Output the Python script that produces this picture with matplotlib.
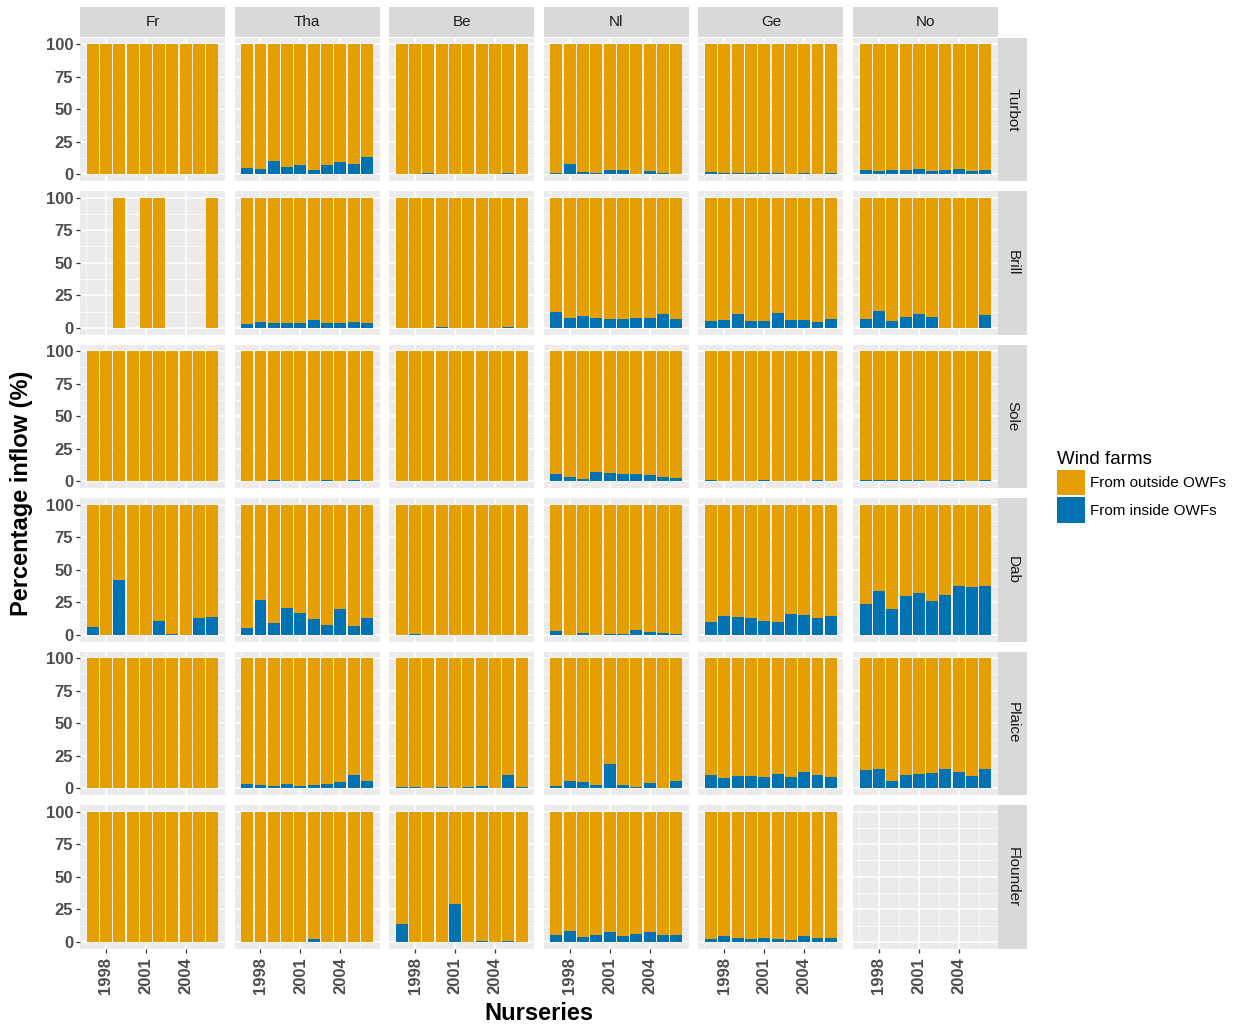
import numpy as np
import matplotlib
matplotlib.use("Agg")
import matplotlib.pyplot as plt
from matplotlib.patches import Patch

plt.rcParams['font.family'] = ['Liberation Sans', 'DejaVu Sans']

nurseries = ["Fr", "Tha", "Be", "Nl", "Ge", "No"]
species = ["Turbot", "Brill", "Sole", "Dab", "Plaice", "Flounder"]
years = list(range(1997, 2007))
year_ticks = [1998, 2001, 2004]
legend_labels = ["From outside OWFs", "From inside OWFs"]

# % inflow from inside OWFs, one row per nursery (Fr, Tha, Be, Nl, Ge, No); None = no data
N = None
inside_turbot = [
    [0, 0, 0.5, 0.5, 0, 0, 0.5, 0.5, 0.5, 0.5],
    [5, 4, 10, 6, 7, 3.5, 7, 9.5, 8, 13.5],
    [0, 0, 1, 0.3, 0, 0, 0, 0, 0.8, 0],
    [0.8, 7.7, 1.8, 1.5, 3.6, 3.3, 0, 3, 0.8, 0.3],
    [1.8, 0.8, 1, 0.8, 1.5, 1.5, 0.5, 0.8, 0.5, 1.3],
    [3.6, 2.8, 3.3, 3.3, 4.3, 2.8, 3.8, 4.3, 3, 3.8],
]
inside_brill = [
    [N, N, 0, N, 0, 0, N, N, N, 0],
    [3.3, 4.8, 3.8, 3.8, 3.6, 5.9, 4, 3.6, 4.6, 4],
    [0, 0, 0, 0.5, 0, 0, 0, 0, 0.5, 0],
    [12.2, 7.9, 9.2, 7.4, 6.9, 6.6, 7.4, 7.9, 10.7, 7.1],
    [5.1, 5.9, 11, 5.6, 5.6, 11.7, 6.4, 5.9, 4.8, 6.6],
    [6.9, 12.8, 5.1, 8.7, 11, 8.7, 0, 0, 0, 10.2],
]
inside_sole = [
    [0, 0, 0, 0, 0, 0, 0, 0, 0, 0],
    [0.5, 0.5, 1, 0.3, 0.5, 0.5, 1, 0.3, 1, 0.5],
    [0, 0, 0, 0, 0, 0, 0, 0, 0, 0],
    [5.9, 3.3, 1.8, 7.2, 6.6, 5.6, 5.9, 4.6, 3.8, 2.8],
    [0.8, 0.3, 0.5, 0.2, 0.8, 0.3, 0.3, 0.5, 0.8, 0.5],
    [1.5, 1, 1, 0.8, 1.3, 0.3, 0.8, 1, 0.5, 1],
]
inside_dab = [
    [5.9, 0, 42, 0, 0, 11, 0.5, 0, 12.8, 13.5],
    [5.6, 27, 9.5, 20.5, 17, 12, 8, 19.7, 7, 12.8],
    [0, 0.5, 0.3, 0, 0, 0, 0, 0.3, 0, 0.2],
    [2.8, 0, 1.8, 0.3, 1, 1, 4, 2.6, 1.8, 1],
    [10, 14.8, 13.5, 13, 10.7, 10.2, 15.9, 15.6, 12.8, 14.8],
    [23.8, 33.5, 19.7, 29.7, 32.5, 26, 30.7, 37.9, 36.6, 37.6],
]
inside_plaice = [
    [0, 0, 0.3, 0, 0, 0, 0, 0, 0, 0],
    [3.6, 2.3, 2, 3.3, 1.8, 3, 3.3, 4.9, 10, 5.9],
    [0.8, 1.3, 0, 0.8, 0, 1.3, 1.8, 0, 10, 1.5],
    [2, 6.1, 4.9, 2.6, 18.4, 3, 0.8, 4.3, 0, 5.9],
    [10, 7.7, 9.7, 9.7, 8.7, 11, 8.7, 12.5, 10, 9],
    [14, 15, 6.1, 10.5, 11.3, 11.8, 15.3, 12.3, 9.7, 14.6],
]
inside_flounder = [
    [0, 0, 0, 0, 0, 0, 0, 0, 0, 0],
    [0.3, 0, 0, 0, 0, 2, 0, 0, 0, 0],
    [14, 0, 0, 0, 29.3, 0, 0.8, 0, 0.8, 0],
    [5.1, 8.4, 4.1, 5.1, 7.4, 4.6, 5.9, 7.9, 5.1, 5.6],
    [2, 4.6, 3, 2.3, 2.8, 2.3, 1.5, 4.6, 3, 3],
    [N, N, N, N, N, N, N, N, N, N],
]
inside_all = [inside_turbot, inside_brill, inside_sole,
              inside_dab, inside_plaice, inside_flounder]

ORANGE = "#E69F00"
BLUE = "#0072B2"
W, H = 1233, 1027


def rect(left, top, w, h):
    return [left / W, 1 - (top + h) / H, w / W, h / H]


fig = plt.figure(figsize=(W / 100, H / 100), dpi=100)

col_left = [80 + 154.6 * j for j in range(6)]
row_top = [37.5 + 153.5 * i for i in range(6)]
pw, ph = 145, 143.5

for i, sp in enumerate(species):
    for j, nur in enumerate(nurseries):
        ax = fig.add_axes(rect(col_left[j], row_top[i], pw, ph))
        ax.set_facecolor("#EBEBEB")
        vals = inside_all[i][j]
        yrs = [y for y, v in zip(years, vals) if v is not None]
        ins = np.array([v for v in vals if v is not None], dtype=float)
        if len(yrs):
            ax.bar(yrs, ins, width=0.9, color=BLUE, linewidth=0, zorder=2)
            ax.bar(yrs, 100 - ins, bottom=ins, width=0.9, color=ORANGE,
                   linewidth=0, zorder=2)
        ax.set_xlim(1996.055, 2006.945)
        ax.set_ylim(-5, 105)
        ax.set_xticks(year_ticks)
        ax.set_xticks([1996.5, 1999.5, 2002.5, 2005.5], minor=True)
        ax.set_yticks([0, 25, 50, 75, 100])
        ax.set_yticks([12.5, 37.5, 62.5, 87.5], minor=True)
        ax.grid(which="major", color="white", linewidth=1.1, zorder=0)
        ax.grid(which="minor", color="white", linewidth=0.5, zorder=0)
        ax.set_axisbelow(True)
        for s in ax.spines.values():
            s.set_visible(False)
        ax.tick_params(which="minor", length=0)
        ax.tick_params(which="major", length=3, width=0.9, color="#333333",
                       labelcolor="#4D4D4D", labelsize=12)
        ax.tick_params(axis="y", pad=2)
        ax.tick_params(axis="x", pad=3)
        if j == 0:
            ax.set_yticklabels([str(t) for t in [0, 25, 50, 75, 100]],
                               fontweight="bold")
        else:
            ax.tick_params(axis="y", length=0, labelleft=False)
        if i == len(species) - 1:
            ax.set_xticklabels([str(t) for t in year_ticks], rotation=90,
                               fontweight="bold")
        else:
            ax.tick_params(axis="x", length=0, labelbottom=False)

        if i == 0:
            sax = fig.add_axes(rect(col_left[j], 7, pw, 30))
            sax.set_facecolor("#D9D9D9")
            sax.set_xticks([]); sax.set_yticks([])
            for s in sax.spines.values():
                s.set_visible(False)
            sax.text(0.5, 0.5, nur, ha="center", va="center", fontsize=11,
                     color="#1A1A1A", transform=sax.transAxes)
        if j == len(nurseries) - 1:
            sax = fig.add_axes(rect(col_left[j] + pw, row_top[i], 29, ph))
            sax.set_facecolor("#D9D9D9")
            sax.set_xticks([]); sax.set_yticks([])
            for s in sax.spines.values():
                s.set_visible(False)
            sax.text(0.5, 0.5, sp, ha="center", va="center", fontsize=11,
                     rotation=270, color="#1A1A1A", transform=sax.transAxes)

fig.text(22 / W, 1 - 493 / H, "Percentage inflow (%)", rotation=90,
         ha="center", va="center", fontsize=17, fontweight="bold")
fig.text(539 / W, 1 - 1014 / H, "Nurseries", ha="center", va="center",
         fontsize=17, fontweight="bold")

handles = [Patch(facecolor=ORANGE, edgecolor="none"),
           Patch(facecolor=BLUE, edgecolor="none")]
fig.legend(handles, legend_labels, title="Wind farms", loc="upper left",
           bbox_to_anchor=(1057 / W, 1 - 451 / H), frameon=False,
           fontsize=11, title_fontsize=13.5, alignment="left",
           handlelength=1.85, handleheight=2.2, labelspacing=0.12,
           handletextpad=0.3, borderpad=0, borderaxespad=0)

fig.savefig("out.png", dpi=100)
